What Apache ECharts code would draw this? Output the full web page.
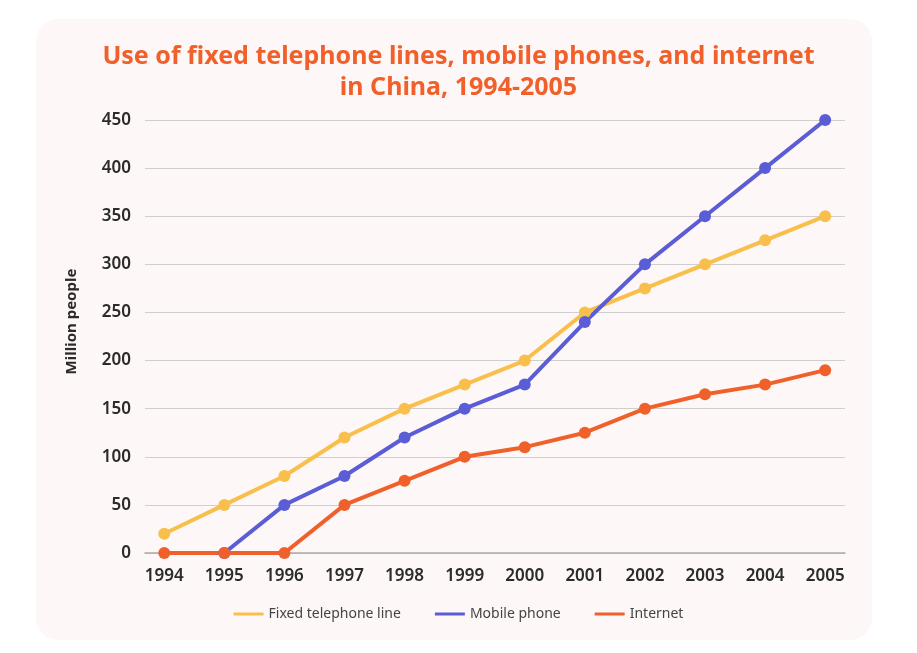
<!DOCTYPE html>
<html>
<head>
<meta charset="utf-8">
<script src="https://cdn.jsdelivr.net/npm/echarts@6/dist/echarts.min.js"></script>
<style>
  html, body { margin: 0; padding: 0; background: #fff; }
  #chart { width: 917px; height: 653px; }
</style>
</head>
<body>
<div id="chart"></div>
<script>
const years = [1994, 1995, 1996, 1997, 1998, 1999, 2000, 2001, 2002, 2003, 2004, 2005]
const fixedLine = [20, 50, 80, 120, 150, 175, 200, 250, 275, 300, 325, 350]
const mobilePhone = [null, 0, 50, 80, 120, 150, 175, 240, 300, 350, 400, 450]
const internet = [0, 0, 0, 50, 75, 100, 110, 125, 150, 165, 175, 190]
const yTicks = [0, 50, 100, 150, 200, 250, 300, 350, 400, 450]

const font = '"Noto Sans", "Open Sans", sans-serif'

// 年份 + 数值 组成点
const pairs = (vals) => years.map((y, i) => [y, vals[i]]).filter(p => p[1] !== null)

const mkSeries = (name, vals, color) => ({
  name,
  type: 'line',
  data: pairs(vals),
  symbol: 'circle',
  symbolSize: 12,
  lineStyle: { width: 4, color },
  itemStyle: { color },
  z: 3
})

const chart = echarts.init(document.getElementById('chart'))
chart.setOption({
  backgroundColor: '#fff',
  animation: false,
  textStyle: { fontFamily: font },
  graphic: [{
    type: 'rect',
    z: -10,
    shape: { x: 36, y: 19, width: 836, height: 621, r: 22 },
    style: { fill: '#fdf8f7' }
  }],
  title: {
    text: 'Use of fixed telephone lines, mobile phones, and internet\nin China, 1994-2005',
    left: 'center',
    top: 36,
    textStyle: {
      color: '#f1602a',
      fontSize: 25,
      fontWeight: 'bold',
      fontFamily: font,
      lineHeight: 31
    }
  },
  legend: {
    bottom: 27,
    left: 'center',
    icon: 'rect',
    itemWidth: 30,
    itemHeight: 3,
    itemGap: 34,
    textStyle: { color: '#444', fontSize: 14, fontFamily: font }
  },
  grid: { left: 145, right: 72, top: 120, bottom: 100 },
  xAxis: {
    type: 'value',
    min: 1993.68,
    max: 2005.33,
    splitLine: { show: false },
    axisLine: { show: true, lineStyle: { color: '#aaa', width: 1.5 } },
    axisTick: { show: false },
    axisLabel: {
      customValues: years,
      color: '#2b2b2b',
      fontSize: 17,
      fontWeight: 600,
      margin: 15,
      formatter: (v) => String(v)
    }
  },
  yAxis: {
    type: 'value',
    min: 0,
    max: 450,
    interval: 50,
    name: 'Million people',
    nameLocation: 'middle',
    nameGap: 66,
    nameTextStyle: { color: '#2b2b2b', fontSize: 15, fontWeight: 'bold', padding: [0, 0, 0, 30] },
    axisLine: { show: false },
    axisTick: { show: false },
    splitLine: { lineStyle: { color: '#cfcfcf', width: 1 } },
    axisLabel: {
      color: '#2b2b2b',
      fontSize: 17,
      fontWeight: 600,
      margin: 14,
      formatter: (v) => yTicks.includes(v) ? String(v) : ''
    }
  },
  series: [
    mkSeries('Fixed telephone line', fixedLine, '#f9bf4d'),
    mkSeries('Mobile phone', mobilePhone, '#5a5dd5'),
    mkSeries('Internet', internet, '#f0602a')
  ]
})
</script>
</body>
</html>
